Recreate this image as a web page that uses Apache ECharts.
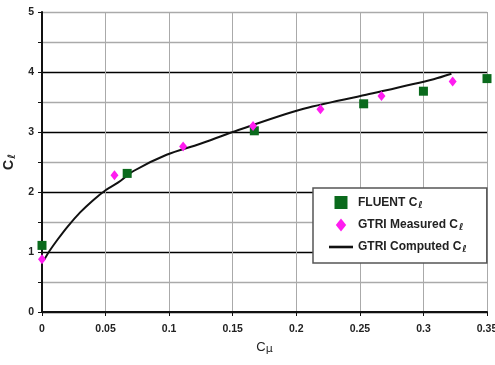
<!DOCTYPE html>
<html>
<head>
<meta charset="utf-8">
<script src="https://cdn.jsdelivr.net/npm/echarts@6/dist/echarts.min.js"></script>
<style>
  html, body { margin: 0; padding: 0; background: #fff; }
  #chart { width: 495px; height: 365px; }
</style>
</head>
<body>
<div id="chart"></div>
<script>
// data
var fluentX = [0, 0.067, 0.167, 0.253, 0.300, 0.350];
var fluentY = [1.11, 2.31, 3.02, 3.47, 3.68, 3.89];

var measuredX = [0, 0.057, 0.111, 0.166, 0.219, 0.267, 0.323];
var measuredY = [0.88, 2.28, 2.76, 3.10, 3.38, 3.60, 3.84];

var computedX = [0.002, 0.006, 0.012, 0.020, 0.030, 0.040, 0.050, 0.060, 0.072, 0.098, 0.124, 0.150, 0.203, 0.255, 0.308, 0.322];
var computedY = [0.88, 1.02, 1.20, 1.42, 1.66, 1.86, 2.03, 2.16, 2.35, 2.62, 2.80, 3.00, 3.37, 3.62, 3.88, 3.97];

var yTicks = ['0', '1', '2', '3', '4', '5'];
var xTicks = ['0', '0.05', '0.1', '0.15', '0.2', '0.25', '0.3', '0.35'];

function pairs(xs, ys) {
    var out = [];
    for (var i = 0; i < xs.length; i++) {
        out.push([xs[i], ys[i]]);
    }
    return out;
}

var chart = echarts.init(document.getElementById('chart'));

var labelFont = { fontFamily: 'Liberation Sans, Arial, sans-serif', fontWeight: 'bold', fontSize: 10.5, color: '#222' };
var subRich = {
    s: { fontFamily: 'DejaVu Sans', fontWeight: 'bold', fontSize: 9.5, color: '#222', padding: [6, 0, 0, 1] }
};

// split line colours, one per 0.5 step (integers dark, halves grey, top edge grey)
var ySplitColors = ['#000', '#aaa', '#000', '#aaa', '#000', '#aaa', '#000', '#aaa', '#000', '#aaa', '#aaa'];

var option = {
    backgroundColor: '#fff',
    animation: false,
    grid: { left: 42, right: 8, top: 12, bottom: 53, outerBoundsMode: 'none', containLabel: false },
    legend: {
        orient: 'vertical',
        left: 313,
        top: 188,
        width: 174,
        backgroundColor: '#fff',
        borderColor: '#555',
        borderWidth: 1.5,
        padding: [8, 20, 8, 16],
        itemGap: 8,
        itemWidth: 24,
        itemHeight: 13,
        textStyle: {
            fontFamily: 'Liberation Sans, Arial, sans-serif',
            fontWeight: 'bold',
            fontSize: 12,
            color: '#222',
            rich: subRich
        },
        formatter: function (name) {
            return name + ' C{s|ℓ}';
        },
        data: [
            { name: 'FLUENT', icon: 'path://M0,0L10,0L10,10L0,10Z' },
            { name: 'GTRI Measured', icon: 'path://M4,0L8,5L4,10L0,5Z' },
            { name: 'GTRI Computed', icon: 'path://M0,0L24,0L24,2.6L0,2.6Z' }
        ]
    },
    xAxis: {
        type: 'value',
        min: 0,
        max: 0.35,
        interval: 0.05,
        name: 'C{s|μ}',
        nameLocation: 'middle',
        nameGap: 28,
        nameTextStyle: {
            fontFamily: 'Liberation Sans, Arial, sans-serif',
            fontSize: 13,
            color: '#222',
            rich: { s: { fontFamily: 'DejaVu Sans', fontSize: 11, color: '#222', padding: [4, 0, 0, 0] } }
        },
        axisLine: { lineStyle: { color: '#111', width: 2 } },
        axisTick: { show: true, length: 4, lineStyle: { color: '#111' } },
        axisLabel: Object.assign({
            margin: 12,
            formatter: function (v, i) { return xTicks[i]; }
        }, labelFont),
        splitLine: { show: true, lineStyle: { color: '#aaa', width: 1 } }
    },
    yAxis: {
        type: 'value',
        min: 0,
        max: 5,
        interval: 0.5,
        name: 'C{s|ℓ}',
        nameLocation: 'middle',
        nameRotate: 90,
        nameGap: 20,
        nameTextStyle: {
            fontFamily: 'Liberation Sans, Arial, sans-serif',
            fontWeight: 'bold',
            fontSize: 14,
            color: '#222',
            rich: { s: { fontFamily: 'DejaVu Sans', fontWeight: 'bold', fontSize: 10, color: '#222', padding: [6, 0, 0, 1] } }
        },
        axisLine: { show: true, lineStyle: { color: '#111', width: 2 } },
        axisTick: { show: true, length: 4, lineStyle: { color: '#111' } },
        axisLabel: Object.assign({
            margin: 8,
            formatter: function (v) {
                return v % 1 === 0 ? yTicks[v] : '';
            }
        }, labelFont),
        splitLine: { show: true, lineStyle: { color: ySplitColors, width: 1.3 } }
    },
    series: [
        {
            name: 'GTRI Computed',
            type: 'line',
            data: pairs(computedX, computedY),
            smooth: 0.3,
            symbol: 'none',
            symbolKeepAspect: true,
            lineStyle: { color: '#111', width: 2 },
            itemStyle: { color: '#111' },
            z: 2
        },
        {
            name: 'FLUENT',
            type: 'scatter',
            data: pairs(fluentX, fluentY),
            symbol: 'rect',
            symbolSize: 9,
            symbolKeepAspect: true,
            itemStyle: { color: '#0a6a1c', opacity: 1 },
            z: 3
        },
        {
            name: 'GTRI Measured',
            type: 'scatter',
            data: pairs(measuredX, measuredY),
            symbol: 'diamond',
            symbolSize: [8, 10],
            symbolKeepAspect: true,
            itemStyle: { color: '#ff1cf0', opacity: 1 },
            z: 4
        }
    ]
};

chart.setOption(option);
</script>
</body>
</html>
